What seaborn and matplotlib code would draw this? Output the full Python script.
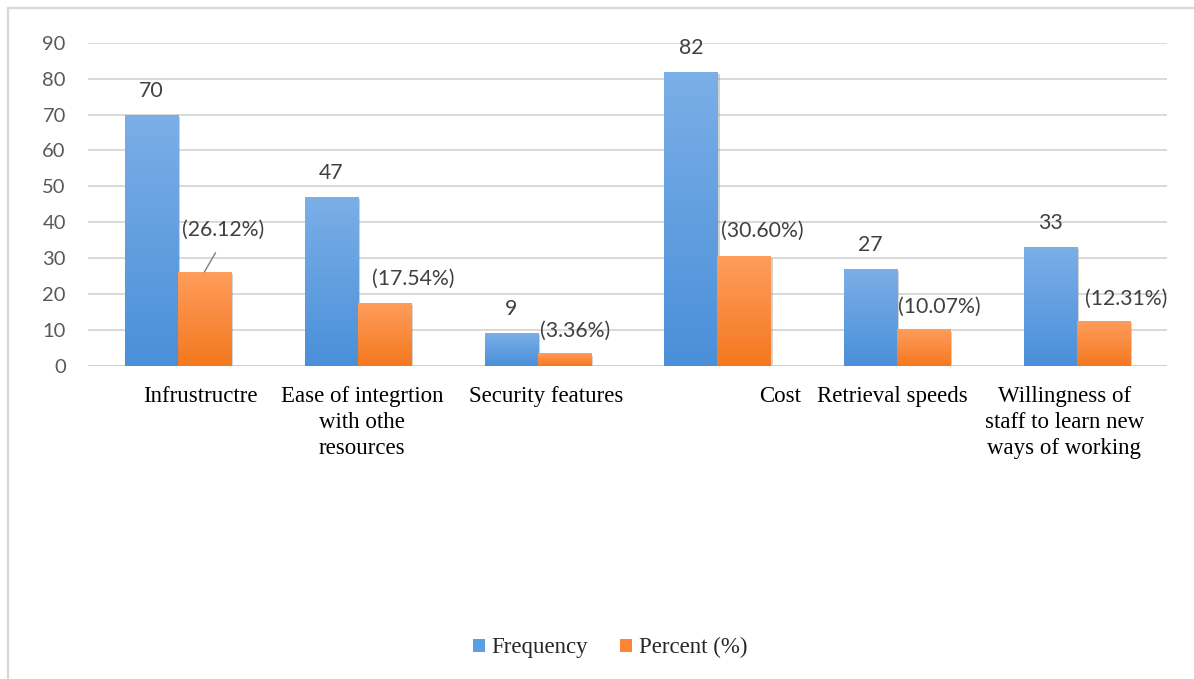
import numpy as np
import pandas as pd
import matplotlib
matplotlib.use("Agg")
import matplotlib.pyplot as plt
import matplotlib.transforms as mtransforms
import matplotlib.patheffects as pe
from matplotlib.colors import LinearSegmentedColormap
from matplotlib.patches import Patch
from matplotlib.lines import Line2D
import seaborn as sns

# ---- data ----
categories = [
    "Infrustructre",
    "Ease of integrtion\nwith othe\nresources",
    "Security features",
    "Cost",
    "Retrieval speeds",
    "Willingness of\nstaff to learn new\nways of working",
]
frequency = [70, 47, 9, 82, 27, 33]
percent = [26.12, 17.54, 3.36, 30.60, 10.07, 12.31]
series_names = ["Frequency", "Percent (%)"]

# ---- styling ----
sns.set_theme(style="white")
plt.rcParams["font.family"] = ["Lato", "DejaVu Sans"]

blue_flat = "#5B9FE3"
orange_flat = "#FB8535"
blue_grad = ("#7BAFE7", "#4A8FD9")      # top, bottom
orange_grad = ("#FF9D5C", "#F4781F")

df = pd.DataFrame({
    "Category": categories * 2,
    "Value": frequency + percent,
    "Series": [series_names[0]] * len(categories) + [series_names[1]] * len(categories),
})

fig = plt.figure(figsize=(11.94, 6.79), dpi=100)
ax = fig.add_axes([0.0737, 0.4617, 0.9037, 0.4750])

sns.barplot(
    data=df, x="Category", y="Value", hue="Series",
    palette=[blue_flat, orange_flat], width=0.59, gap=0,
    legend=False, ax=ax, saturation=1.0,
)

ax.set_xlim(-0.5, len(categories) - 0.5)
ax.set_ylim(0, 90)
ax.set_yticks(np.arange(0, 91, 10))
ax.set_xlabel("")
ax.set_ylabel("")

# gridlines
ax.grid(axis="y", color="#D9D9D9", linewidth=1.4)
ax.set_axisbelow(True)
for s in ax.spines.values():
    s.set_visible(False)
ax.axhline(0, color="#D0D0D0", linewidth=1.4, zorder=1)

# tick labels
ax.tick_params(axis="y", length=0, pad=16, labelsize=14.5, labelcolor="#595959")
ax.tick_params(axis="x", length=0, pad=14.5)
ax.set_xticks(range(len(categories)))
ax.set_xticklabels(categories, fontsize=16.5, family=["Liberation Serif"],
                   color="black", linespacing=1.32)
xlabel_shift_px = [23, 4, 8.5, 63, -4.5, -13]
for lbl, sh in zip(ax.get_xticklabels(), xlabel_shift_px):
    lbl.set_transform(lbl.get_transform() +
                      mtransforms.ScaledTranslation(sh / 100, 0, fig.dpi_scale_trans))

# gradient fill for each bar
def shade_bars(container, colors):
    cmap = LinearSegmentedColormap.from_list("g", [colors[1], colors[0]])
    grad = np.linspace(0, 1, 256).reshape(-1, 1)
    for bar in container.patches:
        x0, y0 = bar.get_x(), bar.get_y()
        w, h = bar.get_width(), bar.get_height()
        bar.set_path_effects([pe.SimplePatchShadow(offset=(1.5, -1.5),
                                                   shadow_rgbFace="#808080",
                                                   alpha=0.35)])
        ax.imshow(grad, cmap=cmap, aspect="auto", origin="lower",
                  extent=(x0, x0 + w, y0, y0 + h), zorder=bar.get_zorder() + 0.1,
                  interpolation="bicubic")
    ax.set_xlim(-0.5, len(categories) - 0.5)
    ax.set_ylim(0, 90)

freq_bars, pct_bars = ax.containers[0], ax.containers[1]
shade_bars(freq_bars, blue_grad)
shade_bars(pct_bars, orange_grad)

# value labels
px = 0.72  # points per pixel at 100 dpi
label_kw = dict(textcoords="offset points", ha="center", va="center",
                fontsize=15.3, color="#404040", zorder=5)
for bar, v in zip(freq_bars.patches, frequency):
    cx = bar.get_x() + bar.get_width() / 2
    ax.annotate(f"{v}", xy=(cx, bar.get_height()), xytext=(0, 24 * px), **label_kw)

pct_offsets_px = [(18.5, 42), (29, 24), (11, 23), (18, 25), (16, 23), (23, 23)]
for i, (bar, v) in enumerate(zip(pct_bars.patches, percent)):
    cx = bar.get_x() + bar.get_width() / 2
    dx, dy = pct_offsets_px[i]
    extra = {}
    if i == 0:
        extra["arrowprops"] = dict(arrowstyle="-", color="#7F7F7F", lw=1.0,
                                   shrinkA=8, shrinkB=0, relpos=(0.5, 0.0))
    ax.annotate(f"({v:.2f}%)", xy=(cx, bar.get_height()),
                xytext=(dx * px, dy * px), **label_kw, **extra)

# legend
handles = [Patch(facecolor=blue_flat, edgecolor="none"),
           Patch(facecolor=orange_flat, edgecolor="none")]
fig.legend(handles, series_names, loc="center", bbox_to_anchor=(0.511, 0.046),
           ncol=2, frameon=False, prop={"family": "Liberation Serif", "size": 16.5},
           handlelength=0.52, handleheight=0.52, handletextpad=0.3,
           columnspacing=1.4)

# chart area border
border = dict(color="#D9D9D9", linewidth=1.6, transform=fig.transFigure)
fig.add_artist(Line2D([8 / 1194, 1.0], [1 - 8 / 679, 1 - 8 / 679], **border))
fig.add_artist(Line2D([8 / 1194, 8 / 1194], [0.0, 1 - 8 / 679], **border))

fig.savefig("out.png", dpi=100)
